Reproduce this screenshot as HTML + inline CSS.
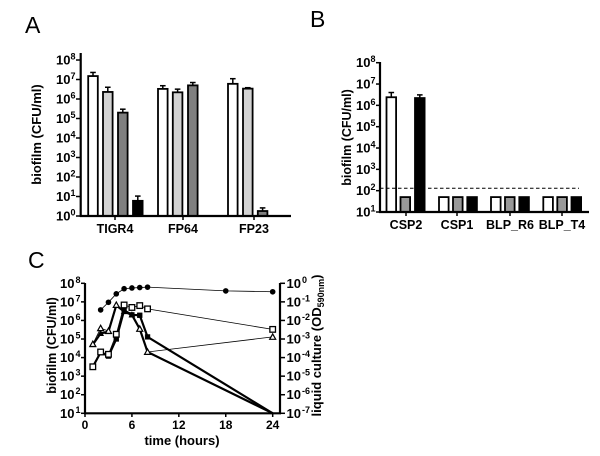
<!DOCTYPE html>
<html lang="en">
<head>
<meta charset="utf-8">
<title>Biofilm panels</title>
<style>
html,body{margin:0;padding:0;background:#fff;}
svg{display:block;filter:blur(0.3px);}
text{font-family:"Liberation Sans",sans-serif;fill:#000;}
.b{font-weight:bold;}
</style>
</head>
<body>
<svg id="chart" xmlns="http://www.w3.org/2000/svg" width="600" height="456" viewBox="0 0 600 456"></svg>
<script>
// Panel A data
const aCategories = ['TIGR4', 'FP64', 'FP23'];
const aTickExponents = [0, 1, 2, 3, 4, 5, 6, 7, 8];
const aTigr4Values = [1.5e7, 2.3e6, 2e5, 6];
const aTigr4Errors = [2.3e7, 4e6, 3e5, 10.5];
const aFp64Values = [3.3e6, 2.2e6, 5e6];
const aFp64Errors = [4.8e6, 3.2e6, 7e6];
const aFp23Values = [6e6, 3.4e6, 1.8];
const aFp23Errors = [1.1e7, 3.8e6, 2.6];
// Panel B data
const bCategories = ['CSP2', 'CSP1', 'BLP_R6', 'BLP_T4'];
const bTickExponents = [1, 2, 3, 4, 5, 6, 7, 8];
const bCsp2Values = [2.4e6, 50, 2.2e6];
const bCsp2Errors = [4e6, 50, 3.1e6];
const bCsp1Values = [50, 50, 50];
const bBlpR6Values = [50, 50, 50];
const bBlpT4Values = [50, 50, 50];
const bThreshold = 130;
// Panel C data
const cLeftExponents = [1, 2, 3, 4, 5, 6, 7, 8];
const cRightExponents = [0, -1, -2, -3, -4, -5, -6, -7];
const cTimeTicks = [0, 6, 12, 18, 24];
const cHoursAll = [1, 2, 3, 4, 5, 6, 7, 8, 24];
const cHoursOd = [2, 3, 4, 5, 6, 7, 8, 18, 24];
const cOdValues = [0.037, 0.095, 0.27, 0.51, 0.56, 0.59, 0.62, 0.39, 0.35];
const cSquareBiofilm = [3.2e3, 1.9e4, 1.2e4, 1e5, 3.5e6, 2e6, 1.9e6, 1.3e5, 10];
const cSquareLiquid = [3.2e3, 2e4, 1.5e4, 1.8e5, 6.8e6, 5e6, 6.3e6, 4.2e6, 3.3e5];
const cTriangleBiofilm = [5e4, 2e5, 2.5e5, 6.5e6, 3e6, 2e6, 3.5e5, 2e4, 10];
const cTriangleLiquid = [5.3e4, 3.8e5, 2.7e5, 6.8e6, 3e6, 2e6, 3.5e5, 2e4, 1.3e5];

const svg = document.getElementById('chart');
const NS = 'http://www.w3.org/2000/svg';

function make(tag, attrs, name, parent) {
  const el = document.createElementNS(NS, tag);
  for (const k in attrs) el.setAttribute(k, attrs[k]);
  
  
  (parent || svg).appendChild(el);
  return el;
}
function line(x1, y1, x2, y2, w, name, parent, dash) {
  const a = {x1, y1, x2, y2, stroke: '#000', 'stroke-width': w};
  if (dash) a['stroke-dasharray'] = dash;
  return make('line', a, name, parent);
}
function label(x, y, str, size, anchor, name, parent, bold) {
  const t = make('text', {x, y, 'font-size': size, 'text-anchor': anchor}, name, parent);
  if (bold !== false) t.setAttribute('class', 'b');
  t.textContent = str;
  return t;
}
function powerLabel(x, y, exp, anchor, name, parent, gap) {
  const t = make('text', {x, y, 'font-size': 13, 'text-anchor': anchor, class: 'b'}, name, parent);
  const base = document.createElementNS(NS, 'tspan');
  base.textContent = '10';
  t.appendChild(base);
  const sup = document.createElementNS(NS, 'tspan');
  sup.setAttribute('dy', '-5');
  if (gap) sup.setAttribute('dx', gap);
  sup.setAttribute('font-size', '9');
  sup.textContent = String(exp);
  t.appendChild(sup);
  return t;
}
function rotatedTitle(cx, cy, size, name, parent, str) {
  const t = make('text', {x: 0, y: 0, 'font-size': size, 'text-anchor': 'middle', class: 'b',
    transform: 'translate(' + cx + ' ' + cy + ') rotate(-90)'}, name, parent);
  t.textContent = str;
  return t;
}
function logScale(y0, yTop, e0, eTop) {
  return v => y0 + (Math.log10(v) - e0) * (yTop - y0) / (eTop - e0);
}
function drawBar(group, x, w, value, err, fill, y, base, name) {
  const top = y(value);
  if (err !== null && err > value) {
    const ey = y(err);
    line(x + w / 2, top, x + w / 2, ey, 1.5, name + '-error-stem', group);
    line(x + w / 2 - 2.8, ey, x + w / 2 + 2.8, ey, 1.5, name + '-error-cap', group);
  }
  make('rect', {x: x, y: top, width: w, height: base - top, fill: fill, stroke: '#000', 'stroke-width': 1.8}, name, group);
}

/* ---------- Panel A ---------- */
(function () {
  const g = make('g', {}, 'panel-a');
  label(25, 33, 'A', 23, 'start', 'panel-a-letter', g, false);
  const y = logScale(216, 60, 0, 8);
  const barW = 9.6;
  const groups = [
    {cat: aCategories[0], vals: aTigr4Values, errs: aTigr4Errors, xs: [88.2, 103, 118, 133], cx: 115},
    {cat: aCategories[1], vals: aFp64Values, errs: aFp64Errors, xs: [158, 172.8, 188], cx: 183},
    {cat: aCategories[2], vals: aFp23Values, errs: aFp23Errors, xs: [228, 243, 257.8], cx: 254}
  ];
  const fills = ['#fff', '#d2d2d2', '#7f7f7f', '#000'];
  groups.forEach(function (gr) {
    gr.vals.forEach(function (v, i) {
      drawBar(g, gr.xs[i], barW, v, gr.errs[i], fills[i], y, 216, 'bar-' + gr.cat.toLowerCase() + '-' + (i + 1));
    });
    line(gr.cx, 216, gr.cx, 220, 1.5, 'x-tick-' + gr.cat.toLowerCase(), g);
    label(gr.cx, 233, gr.cat, 12.5, 'middle', 'x-label-' + gr.cat.toLowerCase(), g);
  });
  line(80.7, 53, 80.7, 217, 2.2, 'y-axis', g);
  line(80, 216, 291, 216, 2.2, 'x-axis', g);
  aTickExponents.forEach(function (e) {
    const ty = y(Math.pow(10, e));
    line(76, ty, 80, ty, 1.5, 'y-tick-' + e, g);
    powerLabel(75.5, ty + 4.5, e, 'end', 'y-label-' + e, g);
  });
  rotatedTitle(41, 134.5, 13, 'y-axis-title', g, 'biofilm (CFU/ml)');
})();

/* ---------- Panel B ---------- */
(function () {
  const g = make('g', {}, 'panel-b');
  label(310, 27, 'B', 23, 'start', 'panel-b-letter', g, false);
  const y = logScale(212, 62.7, 1, 8);
  const barW = 9.6;
  const groups = [
    {cat: bCategories[0], vals: bCsp2Values, errs: bCsp2Errors, xs: [386.5, 400.5, 415], cx: 406},
    {cat: bCategories[1], vals: bCsp1Values, errs: [null, null, null], xs: [439, 453, 467.3], cx: 457},
    {cat: bCategories[2], vals: bBlpR6Values, errs: [null, null, null], xs: [491, 505, 519.3], cx: 510},
    {cat: bCategories[3], vals: bBlpT4Values, errs: [null, null, null], xs: [543.3, 557.3, 571.5], cx: 562}
  ];
  const fills = ['#fff', '#999', '#000'];
  groups.forEach(function (gr) {
    gr.vals.forEach(function (v, i) {
      drawBar(g, gr.xs[i], barW, v, gr.errs[i], fills[i], y, 212, 'bar-' + gr.cat.toLowerCase() + '-' + (i + 1));
    });
    line(gr.cx, 212, gr.cx, 216, 1.5, 'x-tick-' + gr.cat.toLowerCase(), g);
    label(gr.cx, 229, gr.cat, 12.5, 'middle', 'x-label-' + gr.cat.toLowerCase(), g);
  });
  line(380, y(bThreshold), 579, y(bThreshold), 1, 'threshold-line', g, '3.5 2.5');
  line(380, 62, 380, 213, 2.2, 'y-axis', g);
  line(379, 212, 589, 212, 2.2, 'x-axis', g);
  bTickExponents.forEach(function (e) {
    const ty = y(Math.pow(10, e));
    line(376, ty, 380, ty, 1.5, 'y-tick-' + e, g);
    powerLabel(375.5, ty + 4.5, e, 'end', 'y-label-' + e, g);
  });
  rotatedTitle(351, 137.5, 12.5, 'y-axis-title', g, 'biofilm (CFU/ml)');
})();

/* ---------- Panel C ---------- */
(function () {
  const g = make('g', {}, 'panel-c');
  label(28, 268, 'C', 23, 'start', 'panel-c-letter', g, false);
  const x = h => 85 + h * 7.82;
  const yL = logScale(413.3, 283.3, 1, 8);
  const yR = logScale(413.3, 283.3, -7, 0);

  function path(hours, vals, y, w, name) {
    const d = hours.map((h, i) => (i ? 'L' : 'M') + x(h) + ' ' + y(vals[i])).join(' ');
    make('path', {d: d, fill: 'none', stroke: '#000', 'stroke-width': w}, name, g);
  }
  function tri(px, py, s, fill, name) {
    const pts = [[px, py - s], [px - s, py + s * 0.8], [px + s, py + s * 0.8]].map(p => p.join(',')).join(' ');
    make('polygon', {points: pts, fill: fill, stroke: '#000', 'stroke-width': 1.2}, name, g);
  }
  function sq(px, py, s, fill, sw, name) {
    make('rect', {x: px - s, y: py - s, width: 2 * s, height: 2 * s, fill: fill, stroke: '#000', 'stroke-width': sw}, name, g);
  }

  path(cHoursOd, cOdValues, yR, 0.8, 'line-liquid-od');
  cHoursOd.forEach(function (h, i) {
    make('circle', {cx: x(h), cy: yR(cOdValues[i]), r: 2.8, fill: '#000'}, 'point-liquid-od-' + h, g);
  });

  path(cHoursAll, cSquareLiquid, yL, 0.8, 'line-square-liquid');
  path(cHoursAll, cTriangleLiquid, yL, 0.8, 'line-triangle-liquid');
  path(cHoursAll, cSquareBiofilm, yL, 2.2, 'line-square-biofilm');
  path(cHoursAll, cTriangleBiofilm, yL, 2.2, 'line-triangle-biofilm');

  cHoursAll.forEach(function (h, i) {
    if (i < 8) sq(x(h), yL(cSquareBiofilm[i]), 2.4, '#000', 0.5, 'point-square-biofilm-' + h);
    if (i < 8) tri(x(h), yL(cTriangleBiofilm[i]), 2.4, '#000', 'point-triangle-biofilm-' + h);
  });
  cHoursAll.forEach(function (h, i) {
    sq(x(h), yL(cSquareLiquid[i]), 2.8, '#fff', 1.3, 'point-square-liquid-' + h);
    if (i < 4 || i > 5) tri(x(h), yL(cTriangleLiquid[i]), 3, '#fff', 'point-triangle-liquid-' + h);
  });

  line(85, 283, 85, 414, 2.2, 'y-axis-left', g);
  line(280, 283, 280, 414, 2.2, 'y-axis-right', g);
  line(84, 413.3, 281, 413.3, 2.2, 'x-axis', g);
  cLeftExponents.forEach(function (e) {
    const ty = yL(Math.pow(10, e));
    line(81, ty, 85, ty, 1.5, 'y-left-tick-' + e, g);
    powerLabel(80.5, ty + 4.5, e, 'end', 'y-left-label-' + e, g, 1);
  });
  cRightExponents.forEach(function (e) {
    const ty = yR(Math.pow(10, e));
    line(280, ty, 285, ty, 1.5, 'y-right-tick-' + e, g);
    powerLabel(286.5, ty + 4.5, e, 'start', 'y-right-label-' + e, g, 1);
  });
  cTimeTicks.forEach(function (h) {
    line(x(h), 413, x(h), 417, 1.5, 'x-tick-' + h, g);
    label(x(h), 429, String(h), 12, 'middle', 'x-label-' + h, g);
  });
  label(182, 445, 'time (hours)', 13, 'middle', 'x-axis-title', g);
  rotatedTitle(56, 345.5, 12.5, 'y-axis-title-left', g, 'biofilm (CFU/ml)');
  const rt = rotatedTitle(321, 345.5, 13, 'y-axis-title-right', g, 'liquid culture (OD');
  const sub = document.createElementNS(NS, 'tspan');
  sub.setAttribute('dy', '3');
  sub.setAttribute('font-size', '9');
  sub.textContent = '590nm';
  rt.appendChild(sub);
  const close = document.createElementNS(NS, 'tspan');
  close.setAttribute('dy', '-3');
  close.textContent = ')';
  rt.appendChild(close);
})();
</script>
</body>
</html>
